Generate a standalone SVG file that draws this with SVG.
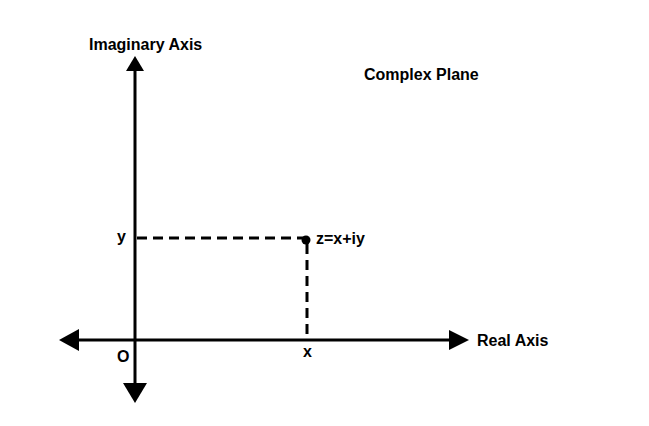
<svg xmlns="http://www.w3.org/2000/svg" width="649" height="426" viewBox="0 0 649 426">
<style>
.lbl{font-family:"Liberation Sans",Arial,sans-serif;font-weight:bold;font-size:16px;fill:#000}
.axis{stroke:#000;stroke-width:3;fill:none}
.dash{stroke:#000;stroke-width:3;fill:none;stroke-dasharray:10 6}
.head{fill:#000}
</style>
<rect width="649" height="426" fill="#fff"/>
<g id="connectors">
<line class="axis" x1="135" y1="68" x2="135" y2="386"/>
<polygon class="head" points="135,56 126,71 144,71"/>
<polygon class="head" points="135,403 123,383 147,383"/>
<line class="axis" x1="76" y1="340" x2="452" y2="340"/>
<polygon class="head" points="59,340 79,329 79,351"/>
<polygon class="head" points="469,340 449,330 449,350"/>
<line class="dash" x1="137" y1="238" x2="305" y2="238"/>
<line class="dash" x1="307" y1="244" x2="307" y2="339"/>
</g>
<g id="point-z">
<circle cx="306" cy="240" r="4.5" fill="#000"/>
<text class="lbl" x="316" y="244">z=x+iy</text>
</g>
<g id="label-imag"><text class="lbl" x="89" y="50">Imaginary Axis</text></g>
<g id="label-title"><text class="lbl" x="364" y="80">Complex Plane</text></g>
<g id="label-real"><text class="lbl" x="477" y="346">Real Axis</text></g>
<g id="label-y"><text class="lbl" x="117" y="242">y</text></g>
<g id="label-x"><text class="lbl" x="303" y="357">x</text></g>
<g id="label-o"><text class="lbl" x="117" y="362">O</text></g>
</svg>
